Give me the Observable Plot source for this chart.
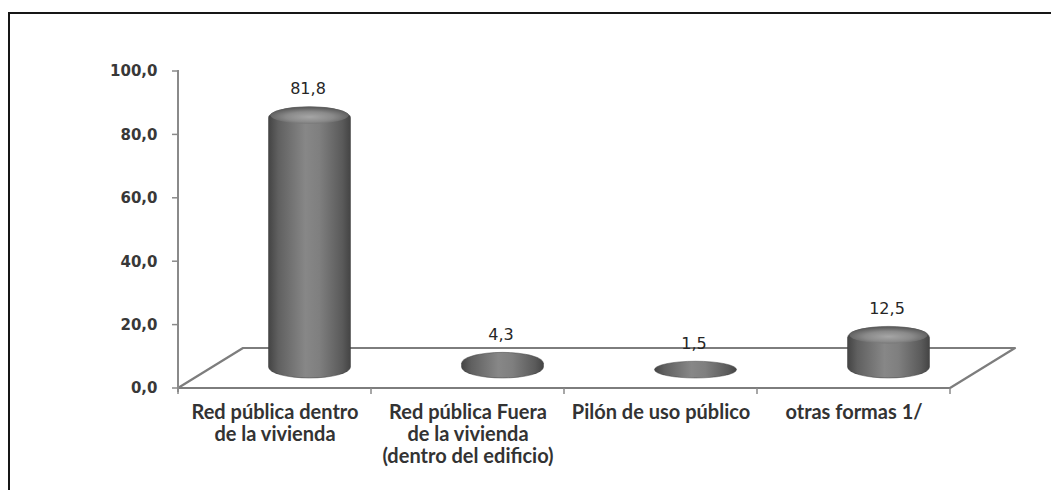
<!DOCTYPE html>
<html>
<head>
<meta charset="utf-8">
<script src="https://cdn.jsdelivr.net/npm/d3@7"></script>
<script src="https://cdn.jsdelivr.net/npm/@observablehq/plot@0.6"></script>
<style>
  html, body { margin: 0; padding: 0; background: #fff; }
  #wrap { position: relative; width: 1051px; height: 490px; overflow: hidden; }
  #border { position: absolute; left: 8px; top: 12px; right: -10px; bottom: -10px;
            border-top: 2px solid #161616; border-left: 2px solid #161616; }
  #chart { position: absolute; left: 0; top: 0; }
  g[aria-label="y-tick-labels"] text { letter-spacing: 1px; }
  g[aria-label="value-labels"] text { letter-spacing: 2px; }
</style>
</head>
<body>
<svg width="0" height="0" style="position:absolute">
  <defs>
    <linearGradient id="cylBody" x1="0" x2="1" y1="0" y2="0">
      <stop offset="0" stop-color="#444444"/>
      <stop offset="0.12" stop-color="#606060"/>
      <stop offset="0.45" stop-color="#878787"/>
      <stop offset="0.62" stop-color="#7f7f7f"/>
      <stop offset="0.9" stop-color="#5a5a5a"/>
      <stop offset="1" stop-color="#444444"/>
    </linearGradient>
    <radialGradient id="cylCap" cx="0.5" cy="0.6" r="0.55">
      <stop offset="0" stop-color="#a6a6a6"/>
      <stop offset="0.55" stop-color="#8a8a8a"/>
      <stop offset="1" stop-color="#5c5c5c"/>
    </radialGradient>
  </defs>
</svg>
<div id="wrap"><div id="border"></div><div id="chart"></div></div>
<script>
// Water supply categories and their shares (%)
const categories = [
  "Red pública dentro\nde la vivienda",
  "Red pública Fuera\nde la vivienda\n(dentro del edificio)",
  "Pilón de uso público",
  "otras formas 1/"
];
const values = [81.8, 4.3, 1.5, 12.5];
const valueLabels = ["81,8", "4,3", "1,5", "12,5"];
const yTicks = [0, 20, 40, 60, 80, 100];
const yTickLabels = ["0,0", "20,0", "40,0", "60,0", "80,0", "100,0"];

const rows = categories.map((cat, i) => ({cat, v: values[i], label: valueLabels[i]}));

// 3-D look: the floor recedes right/up, cylinders stand inside it
const depthX = 65, depthY = 40;
const barDx = 35, barDy = -13;
const labelFont = "Lato, 'Open Sans', sans-serif";
const numFont = "'DejaVu Sans', Verdana, sans-serif";

// Floor parallelogram, y axis line and tick marks, drawn from the plot's scales
function floorAndAxes(...args) {
  const dims = args.find(a => a && typeof a === "object" && "marginLeft" in a && "width" in a);
  const sc = args.find(a => a && typeof a === "object" && typeof a.y === "function");
  const {width, marginLeft, marginRight} = dims;
  const x0 = marginLeft, x1 = width - marginRight;
  const y0 = sc.y(0);
  const g = d3.create("svg:g");
  g.append("path")
    .attr("d", `M${x0},${y0}L${x1},${y0}L${x1 + depthX},${y0 - depthY}L${x0 + depthX},${y0 - depthY}Z`)
    .attr("fill", "#fff").attr("stroke", "#7d7d7d").attr("stroke-width", 2.2)
    .attr("stroke-linejoin", "round");
  // y axis line
  g.append("line")
    .attr("x1", x0).attr("x2", x0).attr("y1", sc.y(100) - 1).attr("y2", y0 + 4)
    .attr("stroke", "#8a8a8a").attr("stroke-width", 2);
  // y tick marks
  for (const t of yTicks) {
    g.append("line")
      .attr("x1", x0 - 6).attr("x2", x0).attr("y1", sc.y(t)).attr("y2", sc.y(t))
      .attr("stroke", "#8a8a8a").attr("stroke-width", 1.5);
  }
  // x tick marks at category boundaries
  const step = sc.x.step ? sc.x.step() : sc.x.bandwidth();
  const bounds = categories.map(c => sc.x(c)).concat([sc.x(categories[categories.length - 1]) + step]);
  for (const bx of bounds) {
    g.append("line")
      .attr("x1", bx).attr("x2", bx).attr("y1", y0).attr("y2", y0 + 6)
      .attr("stroke", "#8a8a8a").attr("stroke-width", 1.5);
  }
  return g.node();
}

const bandStep = (1051 - 178 - 101) / categories.length;
const barWidth = 82;
const side = (bandStep - barWidth) / 2;

const chart = Plot.plot({
  width: 1051,
  height: 490,
  marginLeft: 178,
  marginRight: 101,
  marginTop: 71,
  marginBottom: 102,
  style: {background: "transparent", overflow: "visible"},
  x: {type: "band", domain: categories, padding: 0, axis: null},
  y: {domain: [0, 100], axis: null},
  marks: [
    floorAndAxes,
    // cylinder bodies
    Plot.barY(rows, {
      x: "cat", y: "v",
      insetLeft: side, insetRight: side, insetTop: -9, insetBottom: -3,
      dx: barDx, dy: barDy, rx: barWidth / 2, ry: 11,
      fill: "url(#cylBody)", stroke: "#3a3a3a", strokeWidth: 0.8, strokeOpacity: 0.6
    }),
    // cylinder tops
    Plot.barY(rows.filter(d => d.v > 5), {
      x: "cat", y1: "v", y2: "v",
      insetLeft: side + 2, insetRight: side + 2, insetTop: -9, insetBottom: -8,
      dx: barDx, dy: barDy, rx: barWidth / 2 - 2, ry: 8.5,
      fill: "url(#cylCap)"
    }),
    // value labels
    Plot.text(rows, {
      x: "cat", y: "v", text: "label",
      dx: 33, dy: -40,
      fontSize: 16, fontFamily: numFont, fill: "#262626",
      ariaLabel: "value-labels"
    }),
    // y tick labels
    Plot.text(yTicks, {
      y: d => d, text: (d, i) => yTickLabels[i],
      frameAnchor: "left", dx: -21, textAnchor: "end",
      fontSize: 15, fontWeight: "bold", fontFamily: numFont, fill: "#383838",
      ariaLabel: "y-tick-labels"
    }),
    // category labels
    Plot.text(categories, {
      x: d => d, y: () => 0, text: d => d,
      dy: 15, lineAnchor: "top", lineHeight: 1.1,
      fontSize: 20, fontWeight: "bold", fontFamily: labelFont, fill: "#333",
      ariaLabel: "category-labels"
    })
  ]
});

document.getElementById("chart").appendChild(chart);
</script>
</body>
</html>
